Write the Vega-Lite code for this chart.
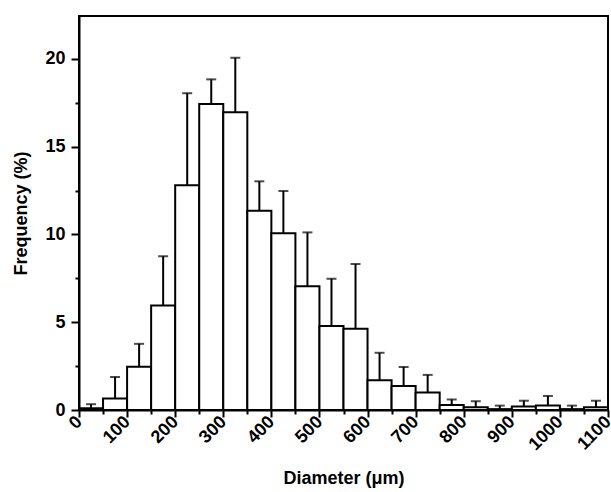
{
  "$schema": "https://vega.github.io/schema/vega-lite/v6.json",
  "autosize": "none",
  "padding": {"left": 79, "top": 16, "right": 3, "bottom": 82},
  "width": 529,
  "height": 394,
  "background": "white",
  "config": {
    "view": {"stroke": "black", "strokeWidth": 2},
    "font": "Liberation Sans",
    "axis": {
      "grid": false,
      "domainColor": "black",
      "domainWidth": 2,
      "tickColor": "black",
      "tickWidth": 2,
      "labelColor": "black",
      "labelFont": "Liberation Sans",
      "labelFontWeight": "bold",
      "labelFontSize": 18,
      "titleFont": "Liberation Sans",
      "titleFontWeight": "bold",
      "titleFontSize": 18,
      "titleColor": "black"
    }
  },
  "data": {
    "values": [
      {"lo": 0, "hi": 50, "mid": 25, "freq": 0.1, "upper": 0.33},
      {"lo": 50, "hi": 100, "mid": 75, "freq": 0.65, "upper": 1.88},
      {"lo": 100, "hi": 150, "mid": 125, "freq": 2.47, "upper": 3.77},
      {"lo": 150, "hi": 200, "mid": 175, "freq": 5.95, "upper": 8.76},
      {"lo": 200, "hi": 250, "mid": 225, "freq": 12.8, "upper": 18.05},
      {"lo": 250, "hi": 300, "mid": 275, "freq": 17.44, "upper": 18.84},
      {"lo": 300, "hi": 350, "mid": 325, "freq": 16.96, "upper": 20.07},
      {"lo": 350, "hi": 400, "mid": 375, "freq": 11.36, "upper": 13.03},
      {"lo": 400, "hi": 450, "mid": 425, "freq": 10.07, "upper": 12.48},
      {"lo": 450, "hi": 500, "mid": 475, "freq": 7.05, "upper": 10.12},
      {"lo": 500, "hi": 550, "mid": 525, "freq": 4.79, "upper": 7.48},
      {"lo": 550, "hi": 600, "mid": 575, "freq": 4.63, "upper": 8.32},
      {"lo": 600, "hi": 650, "mid": 625, "freq": 1.69, "upper": 3.26},
      {"lo": 650, "hi": 700, "mid": 675, "freq": 1.37, "upper": 2.45},
      {"lo": 700, "hi": 750, "mid": 725, "freq": 1.0, "upper": 2.0},
      {"lo": 750, "hi": 800, "mid": 775, "freq": 0.28, "upper": 0.6},
      {"lo": 800, "hi": 850, "mid": 825, "freq": 0.15, "upper": 0.5},
      {"lo": 850, "hi": 900, "mid": 875, "freq": 0.05, "upper": 0.25},
      {"lo": 900, "hi": 950, "mid": 925, "freq": 0.2, "upper": 0.53},
      {"lo": 950, "hi": 1000, "mid": 975, "freq": 0.25, "upper": 0.8},
      {"lo": 1000, "hi": 1050, "mid": 1025, "freq": 0.05, "upper": 0.25},
      {"lo": 1050, "hi": 1100, "mid": 1075, "freq": 0.15, "upper": 0.53}
    ]
  },
  "layer": [
    {
      "mark": {"type": "rule", "color": "black", "strokeWidth": 2},
      "encoding": {
        "x": {"field": "mid", "type": "quantitative", "scale": {"domain": [0, 1100], "nice": false},
          "axis": {"orient": "bottom", "values": [50,150,250,350,450,550,650,750,850,950,1050], "labels": false, "domain": false, "tickSize": 4, "title": null}},
        "y": {"field": "freq", "type": "quantitative", "scale": {"domain": [0, 22.45], "nice": false},
          "axis": {"orient": "left", "values": [2.5,7.5,12.5,17.5,22.5], "labels": false, "domain": false, "tickSize": 4, "title": null}},
        "y2": {"field": "upper"}
      }
    },
    {
      "mark": {"type": "tick", "orient": "horizontal", "color": "black", "size": 10, "thickness": 2},
      "encoding": {
        "x": {"field": "mid", "type": "quantitative", "axis": null},
        "y": {"field": "upper", "type": "quantitative", "axis": null}
      }
    },
    {
      "mark": {"type": "rect", "fill": "white", "stroke": "black", "strokeWidth": 2},
      "encoding": {
        "x": {"field": "lo", "type": "quantitative",
          "axis": {"orient": "bottom", "values": [0,100,200,300,400,500,600,700,800,900,1000,1100], "format": "d", "tickSize": 7, "labelAngle": -45, "labelAlign": "right", "labelBaseline": "middle", "labelPadding": 2, "title": "Diameter (μm)", "titlePadding": 16}},
        "x2": {"field": "hi"},
        "y": {"field": "freq", "type": "quantitative",
          "axis": {"orient": "left", "values": [0,5,10,15,20], "tickSize": 8, "labelPadding": 6, "title": "Frequency (%)", "titlePadding": 14}},
        "y2": {"datum": 0}
      }
    }
  ],
  "resolve": {"axis": {"x": "independent", "y": "independent"}}
}
